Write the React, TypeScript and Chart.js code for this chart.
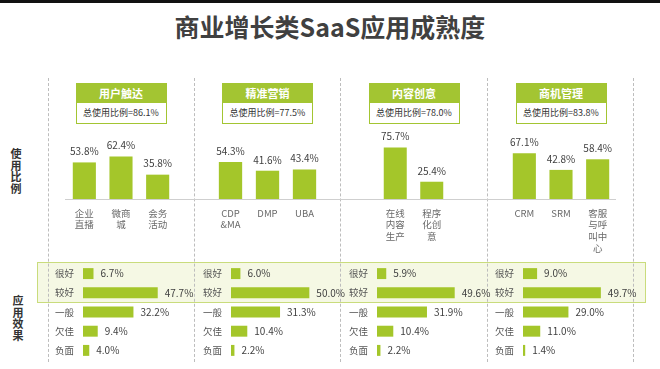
import React, { useEffect, useRef } from "react";
import { Chart, registerables } from "chart.js";

Chart.register(...registerables);

// ---------- DATA ----------
const titleText = "商业增长类SaaS应用成熟度";
const usageAxisTitle = "使用比例";
const effectAxisTitle = "应用效果";
const groupNames = ["用户触达", "精准营销", "内容创意", "商机管理"];
const groupTotals = ["86.1%", "77.5%", "78.0%", "83.8%"];
const usageLabels1 = [["企业", "直播"], ["微商", "城"], ["会务", "活动"]];
const usageLabels2 = [["CDP", "&MA"], ["DMP"], ["UBA"]];
const usageLabels3 = [["在线", "内容", "生产"], ["程序", "化创", "意"]];
const usageLabels4 = [["CRM"], ["SRM"], ["客服", "与呼", "叫中", "心"]];
const usageValues1 = [53.8, 62.4, 35.8];
const usageValues2 = [54.3, 41.6, 43.4];
const usageValues3 = [75.7, 25.4];
const usageValues4 = [67.1, 42.8, 58.4];
const effectLabels = ["很好", "较好", "一般", "欠佳", "负面"];
const effectValues1 = [6.7, 47.7, 32.2, 9.4, 4.0];
const effectValues2 = [6.0, 50.0, 31.3, 10.4, 2.2];
const effectValues3 = [5.9, 49.6, 31.9, 10.4, 2.2];
const effectValues4 = [9.0, 49.7, 29.0, 11.0, 1.4];

const usageLabels = [usageLabels1, usageLabels2, usageLabels3, usageLabels4];
const usageValues = [usageValues1, usageValues2, usageValues3, usageValues4];
const effectValues = [effectValues1, effectValues2, effectValues3, effectValues4];

// ---------- STYLE / LAYOUT ----------
const GREEN = "#a4c62a";
const HEADER_GREEN = "#a3c532";
const TEXT = "#3f3f3f";
const FONT = "'Noto Sans CJK SC', 'Noto Sans', sans-serif";

const vLayout = [
  { left: 66, width: 110 },
  { left: 212, width: 111 },
  { left: 377, width: 73 },
  { left: 506, width: 110 },
];
const groupCenters = [121, 267.5, 414, 561];
const hBarStarts = [83, 231, 377, 523];
const dashedXs = [48, 194, 340, 487, 633];

const V_TOP = 121;
const V_PAD_TOP = 10;
const V_AREA_H = 68;
const V_PAD_BOTTOM = 72;

const H_TOP = 259;
const H_PAD_TOP = 5;
const H_AREA_H = 96;
const H_PAD_LEFT = 40;
const H_AREA_W = 94;
const H_PAD_RIGHT = 50;

function fmt(v: number) {
  return v.toFixed(1) + "%";
}

function VBar({ idx }: { idx: number }) {
  const ref = useRef<HTMLCanvasElement | null>(null);
  const { left, width } = vLayout[idx];
  const height = V_PAD_TOP + V_AREA_H + V_PAD_BOTTOM;
  useEffect(() => {
    if (!ref.current) return;
    const labels = usageLabels[idx];
    const values = usageValues[idx];
    const chart = new Chart(ref.current, {
      type: "bar",
      data: {
        labels: labels.map((l) => l.join("")),
        datasets: [
          {
            data: values,
            backgroundColor: GREEN,
            barPercentage: 0.63,
            categoryPercentage: 1,
          },
        ],
      },
      options: {
        responsive: false,
        maintainAspectRatio: false,
        animation: false,
        layout: { padding: { top: V_PAD_TOP, bottom: V_PAD_BOTTOM, left: 0, right: 0 } },
        scales: {
          x: { display: false },
          y: { display: false, min: 0, max: 100 },
        },
        plugins: { legend: { display: false }, tooltip: { enabled: false } },
      },
      plugins: [
        {
          id: "vlabels",
          afterDatasetsDraw(c: any) {
            const ctx = c.ctx;
            const meta = c.getDatasetMeta(0);
            const bottom = c.chartArea.bottom;
            ctx.save();
            meta.data.forEach((bar: any, i: number) => {
              ctx.fillStyle = TEXT;
              ctx.font = `10px ${FONT}`;
              ctx.textAlign = "center";
              ctx.textBaseline = "middle";
              ctx.fillText(fmt(values[i]), bar.x, bar.y - 11);
              ctx.fillStyle = "#6a6a6a";
              ctx.font = `9.5px ${FONT}`;
              labels[i].forEach((line: string, j: number) => {
                ctx.fillText(line, bar.x, bottom + 14 + j * 11.8);
              });
            });
            ctx.restore();
          },
        },
      ],
    } as any);
    return () => chart.destroy();
  }, [idx]);
  return (
    <canvas
      ref={ref}
      width={width}
      height={height}
      style={{ position: "absolute", left, top: V_TOP, width, height }}
    />
  );
}

function HBar({ idx }: { idx: number }) {
  const ref = useRef<HTMLCanvasElement | null>(null);
  const left = hBarStarts[idx] - H_PAD_LEFT;
  const width = H_PAD_LEFT + H_AREA_W + H_PAD_RIGHT;
  const height = H_PAD_TOP * 2 + H_AREA_H;
  useEffect(() => {
    if (!ref.current) return;
    const values = effectValues[idx];
    const chart = new Chart(ref.current, {
      type: "bar",
      data: {
        labels: effectLabels,
        datasets: [
          {
            data: values,
            backgroundColor: GREEN,
            barPercentage: 0.57,
            categoryPercentage: 1,
          },
        ],
      },
      options: {
        indexAxis: "y",
        responsive: false,
        maintainAspectRatio: false,
        animation: false,
        layout: {
          padding: { top: H_PAD_TOP, bottom: H_PAD_TOP, left: H_PAD_LEFT, right: H_PAD_RIGHT },
        },
        scales: {
          x: { display: false, min: 0, max: 60 },
          y: { display: false },
        },
        plugins: { legend: { display: false }, tooltip: { enabled: false } },
      },
      plugins: [
        {
          id: "hlabels",
          afterDatasetsDraw(c: any) {
            const ctx = c.ctx;
            const meta = c.getDatasetMeta(0);
            const l = c.chartArea.left;
            ctx.save();
            ctx.textBaseline = "middle";
            meta.data.forEach((bar: any, i: number) => {
              ctx.fillStyle = "#555";
              ctx.font = `9.5px ${FONT}`;
              ctx.textAlign = "right";
              ctx.fillText(effectLabels[i], l - 9, bar.y);
              ctx.fillStyle = TEXT;
              ctx.font = `10px ${FONT}`;
              ctx.textAlign = "left";
              ctx.fillText(fmt(values[i]), bar.x + 7, bar.y);
            });
            ctx.restore();
          },
        },
      ],
    } as any);
    return () => chart.destroy();
  }, [idx]);
  return (
    <canvas
      ref={ref}
      width={width}
      height={height}
      style={{ position: "absolute", left, top: H_TOP, width, height }}
    />
  );
}

function VerticalText({ text, left, top }: { text: string; left: number; top: number }) {
  return (
    <div
      style={{
        position: "absolute",
        left,
        top,
        width: 12,
        fontSize: 11,
        lineHeight: "11.5px",
        fontWeight: 700,
        color: "#333",
        textAlign: "center",
        fontFamily: FONT,
      }}
    >
      {text.split("").map((ch, i) => (
        <div key={i}>{ch}</div>
      ))}
    </div>
  );
}

export default function App() {
  return (
    <div
      style={{
        position: "fixed",
        left: 0,
        top: 0,
        width: 660,
        height: 369,
        overflow: "hidden",
        background: "#fff",
        fontFamily: FONT,
      }}
    >
      <div style={{ position: "absolute", left: 0, top: 0, width: 660, height: 3, background: "#111" }} />
      <div
        style={{
          position: "absolute",
          left: 0,
          top: 8,
          width: 660,
          textAlign: "center",
          fontSize: 25,
          lineHeight: "36px",
          fontWeight: 700,
          color: "#404040",
        }}
      >
        {titleText}
      </div>

      {/* highlight band */}
      <div
        style={{
          position: "absolute",
          left: 37,
          top: 262,
          width: 609,
          height: 41,
          boxSizing: "border-box",
          background: "#f5f8e4",
          border: "1.5px solid #c9dc7c",
        }}
      />

      {/* dashed separators */}
      {dashedXs.map((x, i) => (
        <div
          key={i}
          style={{
            position: "absolute",
            left: x,
            top: 78,
            width: 0,
            height: 284,
            borderLeft: "1px dashed #bdbdbd",
          }}
        />
      ))}

      {/* baseline */}
      <div style={{ position: "absolute", left: 65, top: 199, width: 551, height: 1, background: "#cfcfcf" }} />

      <VerticalText text={usageAxisTitle} left={10} top={148} />
      <VerticalText text={effectAxisTitle} left={12} top={295} />

      {groupNames.map((name, i) => (
        <div
          key={i}
          style={{
            position: "absolute",
            left: groupCenters[i] - 45.5,
            top: 83,
            width: 91,
            height: 41,
            boxSizing: "border-box",
            border: `1.5px solid ${HEADER_GREEN}`,
            background: "#fff",
          }}
        >
          <div
            style={{
              height: 18.5,
              background: HEADER_GREEN,
              color: "#fff",
              fontSize: 11,
              fontWeight: 700,
              lineHeight: "18.5px",
              textAlign: "center",
            }}
          >
            {name}
          </div>
          <div
            style={{
              height: 19.5,
              color: "#333",
              fontSize: 9,
              lineHeight: "19.5px",
              textAlign: "center",
            }}
          >
            {"总使用比例=" + groupTotals[i]}
          </div>
        </div>
      ))}

      {[0, 1, 2, 3].map((i) => (
        <VBar key={"v" + i} idx={i} />
      ))}
      {[0, 1, 2, 3].map((i) => (
        <HBar key={"h" + i} idx={i} />
      ))}
    </div>
  );
}
